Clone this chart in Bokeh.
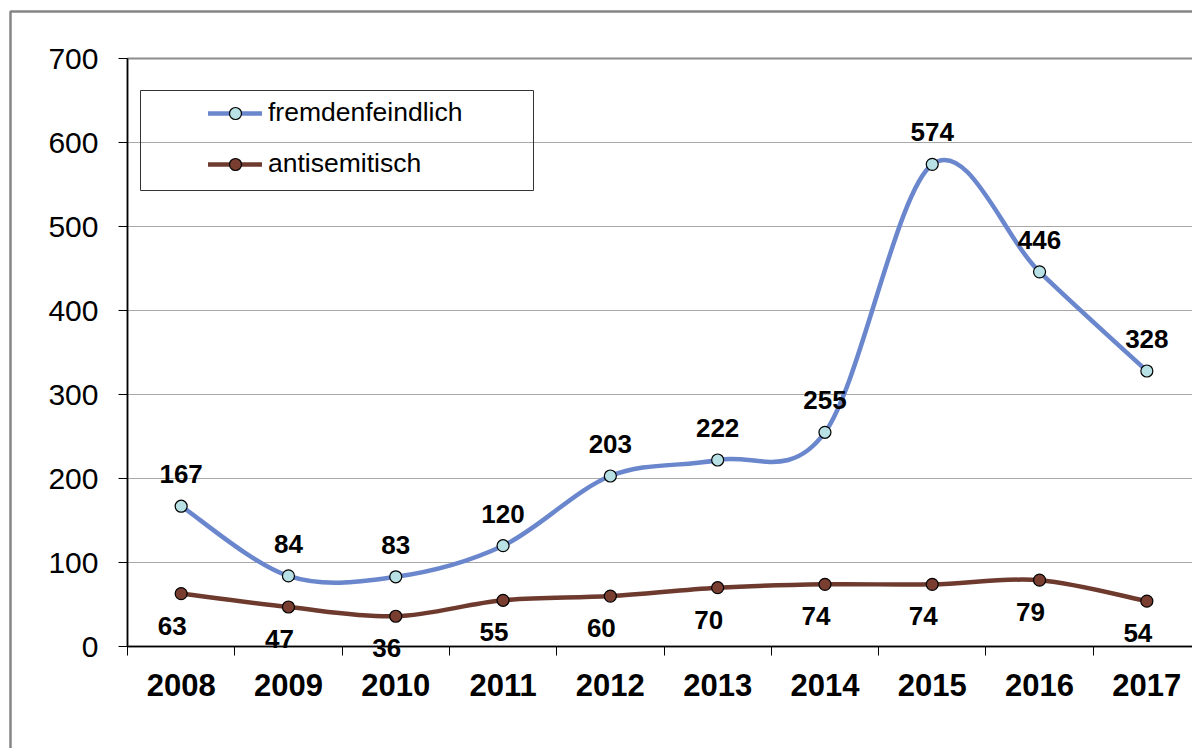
import numpy as np
from bokeh.plotting import figure
from bokeh.models import (Range1d, FixedTicker, ColumnDataSource, LabelSet,
                          Legend, LegendItem, BoxAnnotation)
from bokeh.core.properties import value
from bokeh.embed import file_html
from bokeh.resources import INLINE

years = [2008, 2009, 2010, 2011, 2012, 2013, 2014, 2015, 2016, 2017]
fremdenfeindlich = [167, 84, 83, 120, 203, 222, 255, 574, 446, 328]
antisemitisch = [63, 47, 36, 55, 60, 70, 74, 74, 79, 54]
series_names = ["fremdenfeindlich", "antisemitisch"]
y_ticks = [0, 100, 200, 300, 400, 500, 600, 700]

BLUE = "#6A86CD"
BLUE_FILL = "#B7E1E4"
BROWN = "#6E3A2E"
BROWN_FILL = "#7A3E31"
FONT = "Liberation Sans"


def smooth_segments(xs, ys):
    """Excel-like smoothed line as cubic Bezier segments through the points."""
    x = np.asarray(xs, dtype=float)
    y = np.asarray(ys, dtype=float)
    n = len(x)
    xp = np.concatenate([[x[0]], x, [x[-1]]])
    yp = np.concatenate([[y[0]], y, [y[-1]]])
    return dict(
        x0=x[:-1], y0=y[:-1], x1=x[1:], y1=y[1:],
        cx0=x[:-1] + (xp[2:n + 1] - xp[0:n - 1]) / 6.0,
        cy0=y[:-1] + (yp[2:n + 1] - yp[0:n - 1]) / 6.0,
        cx1=x[1:] - (xp[3:n + 2] - xp[1:n]) / 6.0,
        cy1=y[1:] - (yp[3:n + 2] - yp[1:n]) / 6.0,
    )


# layout (pixels)
W, H = 1192, 748
axis_x_px, axis_y_px = 127, 646        # plot-area left edge / baseline
px_per_year = 107.3
px_per_unit = (axis_y_px - 58) / (y_ticks[-1] - y_ticks[0])

x_axis_start = years[0] - 0.5
x_lo = x_axis_start - axis_x_px / px_per_year
x_hi = x_lo + W / px_per_year
y_lo = y_ticks[0] - (H - axis_y_px) / px_per_unit
y_hi = y_ticks[0] + axis_y_px / px_per_unit

p = figure(width=W, height=H, output_backend="svg", toolbar_location=None,
           x_range=Range1d(x_lo, x_hi), y_range=Range1d(y_lo, y_hi),
           min_border=0, min_border_left=0, min_border_right=0,
           min_border_top=0, min_border_bottom=0)
p.background_fill_color = "white"
p.border_fill_color = "white"
p.outline_line_color = None

# grid lines restricted to the plot area
p.ygrid.ticker = FixedTicker(ticks=y_ticks)
p.ygrid.grid_line_color = "#A8A8A8"
p.ygrid.grid_line_width = 1
p.xgrid.visible = False
g = p.ygrid[0]
if "cross_bounds" in g.properties():
    g.cross_bounds = (x_axis_start, x_hi + 1)

# plot-area border (top edge visible)
p.add_layout(BoxAnnotation(left=x_axis_start, right=x_hi + 1,
                           bottom=y_ticks[0], top=y_ticks[-1],
                           fill_alpha=0, line_color="#8C8C8C", line_alpha=1,
                           line_width=2, level="underlay"))

# y axis
yax = p.yaxis[0]
yax.fixed_location = x_axis_start
yax.bounds = (y_ticks[0], y_ticks[-1])
yax.ticker = FixedTicker(ticks=y_ticks)
yax.axis_line_color = "black"
yax.axis_line_width = 1.5
yax.major_tick_line_color = "black"
yax.major_tick_out = 9
yax.major_tick_in = 0
yax.minor_tick_line_color = None
yax.major_label_text_font = FONT
yax.major_label_text_font_size = "30px"
yax.major_label_text_color = "black"
yax.major_label_standoff = 20

# x axis
edges = [yr - 0.5 for yr in years] + [years[-1] + 0.5]
xax = p.xaxis[0]
xax.fixed_location = y_ticks[0]
xax.bounds = (x_axis_start, x_hi + 1)
xax.ticker = FixedTicker(ticks=years, minor_ticks=edges)
xax.axis_line_color = "black"
xax.axis_line_width = 1.5
xax.major_tick_out = 0
xax.major_tick_in = 0
xax.minor_tick_line_color = "black"
xax.minor_tick_out = 9
xax.minor_tick_in = 0
xax.major_label_text_font = FONT
xax.major_label_text_font_style = "bold"
xax.major_label_text_font_size = "31px"
xax.major_label_text_color = "black"
xax.major_label_standoff = 18

# outer chart border and legend box (canvas pixels)
p.add_layout(BoxAnnotation(left=10, right=W + 50, top=11, bottom=H + 50,
                           left_units="canvas", right_units="canvas",
                           top_units="canvas", bottom_units="canvas",
                           fill_alpha=0, line_color="#858585", line_alpha=1,
                           line_width=2.5))
p.add_layout(BoxAnnotation(left=140, right=533, top=90, bottom=190,
                           left_units="canvas", right_units="canvas",
                           top_units="canvas", bottom_units="canvas",
                           fill_alpha=0, line_color="#333333", line_alpha=1,
                           line_width=1))

items = []
for name, vals, col, fill, dy in [
        (series_names[0], fremdenfeindlich, BLUE, BLUE_FILL, 32),
        (series_names[1], antisemitisch, BROWN, BROWN_FILL, -32)]:
    seg = ColumnDataSource(smooth_segments(years, vals))
    br = p.bezier(x0="x0", y0="y0", x1="x1", y1="y1", cx0="cx0", cy0="cy0",
                  cx1="cx1", cy1="cy1", source=seg, line_color=col,
                  line_width=4.5, line_cap="round")
    src = ColumnDataSource(dict(x=years, y=vals, t=[str(v) for v in vals]))
    sr = p.scatter(x="x", y="y", source=src, size=12, fill_color=fill,
                   line_color="black", line_width=1.2)
    p.add_layout(LabelSet(x="x", y="y", text="t", source=src,
                          x_offset=0 if dy > 0 else -9, y_offset=dy,
                          text_align="center", text_baseline="middle",
                          text_font=value(FONT), text_font_style="bold",
                          text_font_size="26px", text_color="black"))
    items.append(LegendItem(label=name, renderers=[br, sr]))

legend = Legend(items=items, location=(208, H - 179), padding=0, margin=0,
                spacing=20, glyph_width=54, glyph_height=30, label_height=30,
                label_standoff=6, border_line_alpha=0, background_fill_alpha=0,
                label_text_font=FONT, label_text_font_size="26.5px",
                label_text_color="black")
p.add_layout(legend)

open("out.html", "w").write(file_html(p, INLINE))
